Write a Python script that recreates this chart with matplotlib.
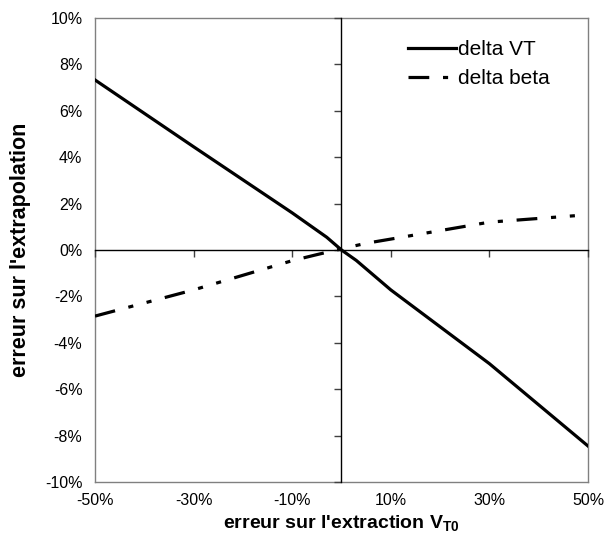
import matplotlib
matplotlib.use("Agg")
import matplotlib.pyplot as plt
from matplotlib.ticker import FuncFormatter

plt.rcParams["font.family"] = ["Liberation Sans", "DejaVu Sans"]
plt.rcParams["mathtext.fontset"] = "custom"
plt.rcParams["mathtext.rm"] = "Liberation Sans"
plt.rcParams["mathtext.bf"] = "Liberation Sans:bold"

# erreur sur l'extraction (%) et erreurs résultantes (%)
x_vt = [-50, -30, -10, -3, 0, 3, 10, 30, 50]
delta_vt = [7.33, 4.45, 1.6, 0.55, 0.0, -0.45, -1.72, -4.9, -8.45]

x_beta = [-50, -30, -10, -5, 0, 5, 10, 30, 50]
delta_beta = [-2.85, -1.72, -0.46, -0.2, 0.05, 0.29, 0.47, 1.2, 1.52]

x_ticks = [-50, -30, -10, 10, 30, 50]
y_ticks = [-10, -8, -6, -4, -2, 0, 2, 4, 6, 8, 10]

pct = FuncFormatter(lambda v, _: f"{v:.0f}%")

fig = plt.figure(figsize=(6.07, 5.54), dpi=100)
pos = [0.1565, 0.13, 0.8122, 0.8375]

# cadre gris + étiquettes des graduations
ax_cadre = fig.add_axes(pos)
ax_cadre.set_xlim(-50, 50)
ax_cadre.set_ylim(-10, 10)
ax_cadre.set_xticks(x_ticks)
ax_cadre.set_yticks(y_ticks)
ax_cadre.xaxis.set_major_formatter(pct)
ax_cadre.yaxis.set_major_formatter(pct)
ax_cadre.tick_params(axis="x", length=0, labelsize=11.5, pad=8)
ax_cadre.tick_params(axis="y", length=0, labelsize=11.5, pad=9)
for s in ax_cadre.spines.values():
    s.set_color("#808080")
    s.set_linewidth(1)
ax_cadre.set_xlabel(r"erreur sur l'extraction $\mathbf{V}_{\mathbf{T0}}$",
                    fontsize=14, fontweight="bold", labelpad=4)
ax_cadre.set_ylabel("erreur sur l'extrapolation", fontsize=15.5,
                    fontweight="bold", labelpad=10)

# axes passant par zéro + courbes
ax = fig.add_axes(pos, sharex=ax_cadre, sharey=ax_cadre)
ax.patch.set_visible(False)
ax.spines["top"].set_visible(False)
ax.spines["right"].set_visible(False)
ax.spines["left"].set_position(("data", 0))
ax.spines["bottom"].set_position(("data", 0))
ax.spines["left"].set_color("black")
ax.spines["bottom"].set_color("black")
ax.spines["left"].set_linewidth(1)
ax.spines["bottom"].set_linewidth(1)
ax.tick_params(direction="out", length=5, width=1, color="#404040",
               labelleft=False, labelbottom=False)

ax.plot(x_vt, delta_vt, color="black", linewidth=2.3, label="delta VT",
        solid_joinstyle="round")
ax.plot(x_beta, delta_beta, color="black", linewidth=2.3, label="delta beta",
        linestyle=(0, (6.5, 4.3, 1.6, 4.3, 1.6, 4.3)), dash_capstyle="butt")

ax.legend(loc="upper left", frameon=False, fontsize=15, handlelength=2.3,
          handletextpad=0.1, labelspacing=0.5, borderpad=0, borderaxespad=0,
          bbox_to_anchor=(0.635, 0.953))

fig.savefig("out.png", dpi=100)
